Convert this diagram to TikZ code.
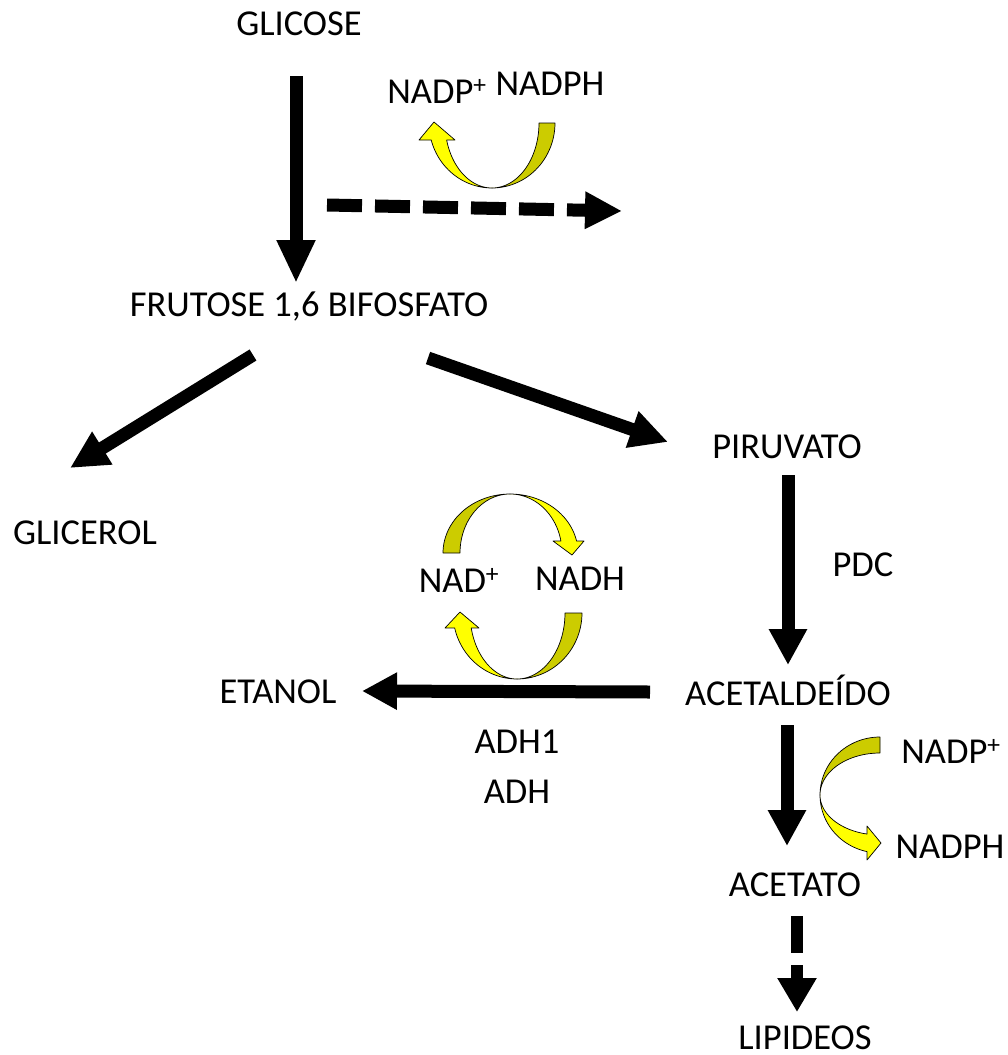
\documentclass[tikz,border=0pt]{standalone}
\usepackage{fontspec}
\setmainfont{Carlito}
\usetikzlibrary{arrows.meta}
\definecolor{ylw}{RGB}{255,255,0}
\definecolor{olv}{RGB}{204,204,0}
\begin{document}
\begin{tikzpicture}[x=1pt,y=1pt,
  lbl/.style={inner sep=0pt, anchor=base, font=\fontsize{36.5}{44}\selectfont},
  bigarrow/.style={line width=13pt, -{Triangle[length=38pt,width=36pt]}},
  dasharrow/.style={line width=13pt, dash pattern=on 35pt off 13pt, -{Triangle[length=37pt,width=35pt]}},
  brightpart/.style={fill=ylw, draw=black, line width=0.7pt, line join=round},
  darkpart/.style={fill=olv, draw=black, line width=0.7pt, line join=round}]
\useasboundingbox (0,0) rectangle (1008,-1055);

% ---------- labels ----------
\node[lbl] (glicose)  at (299,-35)   {GLICOSE};
\node[lbl] (nadpA)    at (437,-103)  {NADP\textsuperscript{+}};
\node[lbl] (nadphA)   at (550,-95)   {NADPH};
\node[lbl] (frutose)  at (309,-316)  {FRUTOSE 1,6 BIFOSFATO};
\node[lbl] (piruvato) at (787,-458)  {PIRUVATO};
\node[lbl] (glicerol) at (85,-544)   {GLICEROL};
\node[lbl] (pdc)      at (863,-576)  {PDC};
\node[lbl] (nad)      at (459,-592)  {NAD\textsuperscript{+}};
\node[lbl] (nadh)     at (580,-590)  {NADH};
\node[lbl] (etanol)   at (278,-703)  {ETANOL};
\node[lbl] (acetal)   at (788,-705)  {ACETALDEÍDO};
\node[lbl] (adhone)   at (517,-753)  {ADH1};
\node[lbl] (adh)      at (517,-803)  {ADH};
\node[lbl] (nadpB)    at (951,-763)  {NADP\textsuperscript{+}};
\node[lbl] (nadphB)   at (950,-858)  {NADPH};
\node[lbl] (acetato)  at (795,-896)  {ACETATO};
\node[lbl] (lipideos) at (805,-1049) {LIPIDEOS};

% ---------- arrow end points ----------
\coordinate (gS) at (296,-76);   \coordinate (gE) at (296,-283);
\coordinate (dS) at (327,-205);  \coordinate (dE) at (622,-211);
\coordinate (lS) at (253,-355);  \coordinate (lE) at (70,-468);
\coordinate (rS) at (428,-358);  \coordinate (rE) at (668,-442);
\coordinate (pS) at (788,-475);  \coordinate (pE) at (788,-665);
\coordinate (eS) at (650,-692);  \coordinate (eE) at (362,-691);
\coordinate (aS) at (787,-725);  \coordinate (aE) at (787,-846);
\coordinate (tS) at (797,-916);  \coordinate (tE) at (797,-1012);

% ---------- black arrows ----------
\draw[bigarrow, -{Triangle[length=43pt,width=36pt]}] (gS) -- (gE);
\draw[dasharrow] (dS) -- (dE);
\draw[bigarrow] (lS) -- (lE);
\draw[bigarrow] (rS) -- (rE);
\draw[bigarrow, -{Triangle[length=36pt,width=36pt]}] (pS) -- (pE);
\draw[bigarrow, -{Triangle[length=35pt,width=35pt]}] (eS) -- (eE);
\draw[bigarrow, -{Triangle[length=36pt,width=36pt]}] (aS) -- (aE);
\draw[line width=12pt, dash pattern=on 37pt off 12pt, -{Triangle[length=34pt,width=37pt]}] (tS) -- (tE);

% ---------- top U (NADPH -> NADP+) ----------
\path[darkpart]
  plot[domain=0:90, samples=30, variable=\t] ({492+63*cos(\t)},{-123-65*sin(\t)})
  -- plot[domain=90:0, samples=30, variable=\t] ({492+47*cos(\t)},{-123-65*sin(\t)})
  -- cycle;
\path[brightpart]
  plot[domain=90:164.8, samples=30, variable=\t] ({492+63*cos(\t)},{-123-65*sin(\t)})
  -- (419,-140) -- (434,-122) -- (455,-140)
  -- plot[domain=164.8:90, samples=30, variable=\t] ({492+47*cos(\t)},{-123-65*sin(\t)})
  -- cycle;

% ---------- middle upper arc (NAD+ -> NADH) ----------
\path[darkpart]
  plot[domain=180:90, samples=30, variable=\t] ({510+67*cos(\t)},{-553+59*sin(\t)})
  -- plot[domain=90:180, samples=30, variable=\t] ({510+50*cos(\t)},{-553+59*sin(\t)})
  -- cycle;
\path[brightpart]
  plot[domain=90:11.7, samples=30, variable=\t] ({510+68*cos(\t)},{-553+59*sin(\t)})
  -- (584,-541) -- (572,-555) -- (553,-541)
  -- plot[domain=11.7:90, samples=30, variable=\t] ({510+52*cos(\t)},{-553+59*sin(\t)})
  -- cycle;

% ---------- middle lower U (NADH -> NAD+) ----------
\path[darkpart]
  plot[domain=0:90, samples=30, variable=\t] ({517+65*cos(\t)},{-613-66*sin(\t)})
  -- plot[domain=90:0, samples=30, variable=\t] ({517+48*cos(\t)},{-613-66*sin(\t)})
  -- cycle;
\path[brightpart]
  plot[domain=90:166.9, samples=30, variable=\t] ({517+64*cos(\t)},{-613-66*sin(\t)})
  -- (445,-628) -- (460,-612) -- (479,-628)
  -- plot[domain=166.9:90, samples=30, variable=\t] ({517+47*cos(\t)},{-613-66*sin(\t)})
  -- cycle;

% ---------- right C (NADP+ -> NADPH) ----------
\path[darkpart]
  plot[domain=90:180, samples=30, variable=\t] ({880+60*cos(\t)},{-795+58*sin(\t)})
  -- plot[domain=180:90, samples=30, variable=\t] ({880+60*cos(\t)},{-795+42*sin(\t)})
  -- cycle;
\path[brightpart]
  plot[domain=180:257.5, samples=30, variable=\t] ({880+60*cos(\t)},{-795+58*sin(\t)})
  -- (867,-860) -- (881,-843) -- (867,-826)
  -- plot[domain=257.5:180, samples=30, variable=\t] ({880+60*cos(\t)},{-795+40*sin(\t)})
  -- cycle;
\end{tikzpicture}
\end{document}
